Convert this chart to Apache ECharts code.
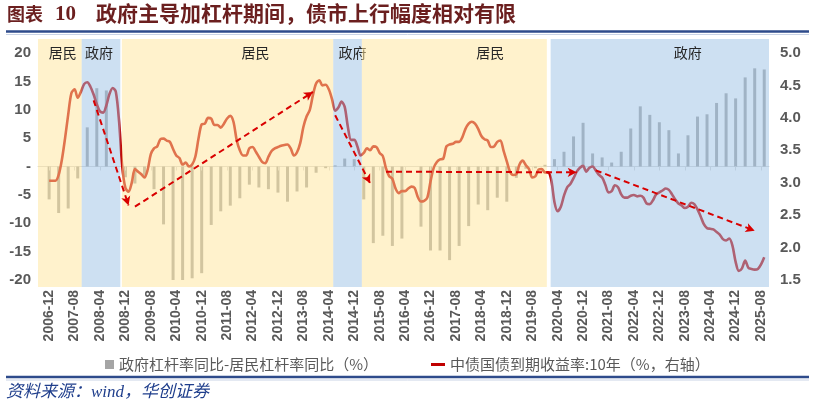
<!DOCTYPE html>
<html>
<head>
<meta charset="utf-8">
<script src="https://cdn.jsdelivr.net/npm/echarts@6/dist/echarts.min.js"></script>
<style>
  html, body { margin: 0; padding: 0; background: #fff; }
  #main { width: 814px; height: 409px; }
</style>
</head>
<body>
<div id="main"></div>
<script>
// 横轴：月度，2006-09 ~ 2025-10
const categories = [];
for (let i = 0; i < 230; i++) {
  const m = 8 + i;
  categories.push((2006 + Math.floor(m / 12)) + '-' + String(m % 12 + 1).padStart(2, '0'));
}

// 政府杠杆率同比-居民杠杆率同比（%），季度，2006-12 起
const gapStart = '2006-12';
const gapValues = [
  -5.8, -8.2, -7.4, -2.1, 6.9, 13.8, 13.4, null, -1.9, -3.0,
  -1.9, -4.0, -10.2, -20.0, -20.0, -19.7, -18.8, -10.3, -7.9, -6.9,
  -5.6, -3.2, -3.7, -4.0, -4.6, -6.2, -4.4, -3.7, -1.1, -0.3,
  0.2, 1.4, 1.3, -5.8, -13.5, -12.2, -14.0, -12.7, null, -10.6,
  -14.8, -14.8, -16.5, -14.0, -10.5, -6.7, -7.7, -5.5, -6.2, -2.0,
  -0.4, -0.3, 0.3, 1.3, 2.6, 5.3, 7.7, 2.3, 1.6, 0.7,
  2.6, 6.7, 10.6, 9.1, 7.8, 6.4, 2.3, 5.5, 8.8, 9.2,
  11.2, 12.9, 12.0, 15.7, 17.3, 17.1
];

// 中债国债到期收益率:10年（%），月度，2006-12 起
const yieldStart = '2006-12';
const yieldValues = [
  3.03, 3.03, 3.03, 3.12, 3.35, 3.68, 4.05, 4.38, 4.44, 4.31,
  4.40, 4.52, 4.55, 4.48, 4.36, 4.21, 4.10, 4.08, 4.19, 4.37,
  4.46, 4.40, 3.95, 3.25, 2.92, 2.86, 3.00, 3.21, 3.17, 3.13,
  3.08, 3.20, 3.44, 3.53, 3.56, 3.67, 3.68, 3.65, 3.63, 3.52,
  3.42, 3.38, 3.28, 3.31, 3.25, 3.28, 3.40, 3.68, 3.90, 3.91,
  4.00, 3.99, 3.89, 3.89, 3.85, 3.91, 3.99, 4.03, 3.94, 3.66,
  3.50, 3.42, 3.42, 3.53, 3.55, 3.48, 3.40, 3.32, 3.30, 3.40,
  3.49, 3.53, 3.55, 3.57, 3.58, 3.59, 3.53, 3.42, 3.47, 3.61,
  3.86, 4.02, 4.12, 4.35, 4.53, 4.58, 4.50, 4.51, 4.44, 4.29,
  4.11, 4.16, 4.25, 4.17, 3.86, 3.66, 3.66, 3.56, 3.42, 3.46,
  3.53, 3.50, 3.56, 3.55, 3.46, 3.41, 3.22, 3.10, 3.06, 2.91,
  2.84, 2.87, 2.87, 2.91, 2.94, 2.92, 2.78, 2.71, 2.72, 2.77,
  3.02, 3.23, 3.32, 3.36, 3.37, 3.56, 3.59, 3.60, 3.63, 3.63,
  3.70, 3.83, 3.91, 3.94, 3.91, 3.83, 3.72, 3.67, 3.65, 3.55,
  3.56, 3.63, 3.65, 3.49, 3.33, 3.17, 3.12, 3.13, 3.28, 3.34,
  3.27, 3.21, 3.08, 3.10, 3.20, 3.21, 3.16, 3.16, 3.04, 2.70,
  2.56, 2.63, 2.80, 2.93, 2.98, 3.07, 3.17, 3.23, 3.26, 3.17,
  3.23, 3.25, 3.19, 3.12, 3.08, 2.97, 2.85, 2.87, 2.96, 2.93,
  2.82, 2.77, 2.77, 2.80, 2.81, 2.79, 2.80, 2.77, 2.68, 2.67,
  2.73, 2.82, 2.85, 2.88, 2.91, 2.89, 2.82, 2.74, 2.68, 2.65,
  2.61, 2.63, 2.69, 2.67, 2.59, 2.48, 2.36, 2.30, 2.29, 2.28,
  2.24, 2.20, 2.13, 2.11, 2.14, 2.03, 1.78, 1.64, 1.68, 1.80,
  1.69, 1.67, 1.66, 1.67, 1.74, 1.85
];

// 阴影区间（月序号，含半格边界）：名称、起、止、标签偏移
const periodNames = ['居民', '政府', '居民', '政府', '居民', '政府'];
const periodFrom = [-0.5, 13.25, 25.9, 92.4, 101.4, 160.8];
const periodTo = [13.25, 25.4, 92.4, 101.4, 159.6, 229.5];
const periodLabelShift = [3, -2, 28, 5, 36, 28];

// 虚线箭头：[起点月序号, 起点收益率, 终点月序号, 终点收益率]
const arrows = [
  [17, 4.27, 28, 2.65],
  [30, 2.63, 86, 4.40],
  [93, 4.04, 104, 2.99],
  [109, 3.17, 169, 3.16],
  [175, 3.19, 225, 2.26]
];

const barName = '政府杠杆率同比-居民杠杆率同比（%）';
const lineName = '中债国债到期收益率:10年（%，右轴）';

const barData = categories.map(() => null);
const g0 = categories.indexOf(gapStart);
gapValues.forEach((v, k) => { barData[g0 + 3 * k] = v; });
const lineData = categories.map(() => null);
const y0 = categories.indexOf(yieldStart);
yieldValues.forEach((v, k) => { lineData[y0 + k] = v; });

const showTick = (idx) => idx >= 3 && (idx - 3) % 8 === 0;
const numFont = '"Liberation Sans", Arial, "Noto Sans CJK SC", sans-serif';
const cjkFont = '"Noto Sans CJK SC", sans-serif';
const yellow = 'rgba(255, 230, 153, 0.5)';
const blue = 'rgba(155, 194, 230, 0.5)';

const chart = echarts.init(document.getElementById('main'), null, { renderer: 'canvas' });

const option = {
  animation: false,
  backgroundColor: '#fff',
  textStyle: { fontFamily: numFont },
  graphic: [
    { type: 'text', left: 7, top: 5, style: { text: '图表', font: 'bold 18px ' + cjkFont, fill: '#6B1F1F' } },
    { type: 'text', left: 55, top: 4, style: { text: '10', font: 'bold 21px "Liberation Serif", serif', fill: '#6B1F1F' } },
    { type: 'text', left: 96, top: 3, style: { text: '政府主导加杠杆期间，债市上行幅度相对有限', font: 'bold 21px ' + cjkFont, fill: '#6B1F1F' } },
    { type: 'line', shape: { x1: 6, y1: 31.5, x2: 809, y2: 31.5 }, style: { stroke: '#2E4B8B', lineWidth: 2.5 } },
    { type: 'line', shape: { x1: 6, y1: 34.5, x2: 809, y2: 34.5 }, style: { stroke: '#C9D3E6', lineWidth: 1 } },
    { type: 'line', shape: { x1: 6, y1: 377, x2: 809, y2: 377 }, style: { stroke: '#2E4B8B', lineWidth: 2.5 } },
    { type: 'line', shape: { x1: 6, y1: 380, x2: 809, y2: 380 }, style: { stroke: '#C9D3E6', lineWidth: 1 } },
    { type: 'text', left: 6, top: 384, style: { text: '资料来源：wind，华创证券', font: 'italic 17px "Liberation Serif", ' + cjkFont, fill: '#1F3E8C' } }
  ],
  legend: [
    {
      left: 100, top: 352, itemWidth: 9, itemHeight: 9, icon: 'rect',
      data: [barName],
      textStyle: { color: '#595959', fontSize: 15, fontFamily: cjkFont }
    },
    {
      left: 426, top: 352, itemWidth: 14, itemHeight: 3, icon: 'rect',
      data: [lineName],
      textStyle: { color: '#595959', fontSize: 15, fontFamily: cjkFont }
    }
  ],
  grid: [
    { left: 38, right: 45, top: 53, bottom: 129 },
    { left: 38, right: 45, top: 39, bottom: 122 }
  ],
  xAxis: [
    {
      type: 'category', gridIndex: 0, position: 'bottom', data: categories,
      axisLine: { show: false, onZero: false },
      axisTick: { show: false },
      axisLabel: {
        interval: showTick, rotate: 90, margin: 10,
        color: '#595959', fontSize: 14, fontWeight: 'bold', fontFamily: numFont
      },
      splitLine: { show: false }
    },
    {
      type: 'category', gridIndex: 0, position: 'bottom', data: categories,
      axisLine: { show: true, onZero: true, onZeroAxisIndex: 0, lineStyle: { color: '#D9D9D9', width: 1 } },
      axisTick: { show: true, interval: showTick, alignWithLabel: true, length: 4, lineStyle: { color: '#D9D9D9' } },
      axisLabel: { show: false },
      splitLine: { show: false }
    },
    { type: 'value', gridIndex: 1, min: -0.5, max: 229.5, show: false }
  ],
  yAxis: [
    {
      type: 'value', gridIndex: 0, position: 'left', min: -20, max: 20, interval: 5,
      axisLine: { show: false }, axisTick: { show: false }, splitLine: { show: false },
      axisLabel: {
        margin: 7, color: '#595959', fontSize: 15, fontWeight: 'bold', fontFamily: numFont,
        formatter: (v) => (v === 0 ? '-' : String(v))
      }
    },
    {
      type: 'value', gridIndex: 0, position: 'right', min: 1.5, max: 5, interval: 0.5,
      axisLine: { show: false }, axisTick: { show: false }, splitLine: { show: false },
      axisLabel: {
        margin: 11, color: '#595959', fontSize: 15, fontWeight: 'bold', fontFamily: numFont,
        formatter: (v) => v.toFixed(1)
      }
    },
    { type: 'value', gridIndex: 1, min: 0, max: 1, show: false }
  ],
  series: [
    {
      name: barName, type: 'bar', xAxisIndex: 0, yAxisIndex: 0, z: 0,
      data: barData, barWidth: 3,
      itemStyle: { color: '#A5A5A5' }
    },
    {
      name: lineName, type: 'line', xAxisIndex: 0, yAxisIndex: 1, z: 0,
      data: lineData, showSymbol: false, smooth: 0.3,
      lineStyle: { color: '#C00000', width: 2.6 },
      itemStyle: { color: '#C00000' },
      markLine: {
        silent: true,
        symbol: ['none', 'arrow'], symbolSize: [7, 9],
        label: { show: false },
        lineStyle: { color: '#D90000', width: 2, type: [6, 4] },
        data: arrows.map((a) => [{ coord: [a[0], a[1]] }, { coord: [a[2], a[3]] }])
      }
    },
    {
      // 阴影区间画在柱和线之上（半透明），使其底色透出
      name: 'shade', type: 'custom', xAxisIndex: 2, yAxisIndex: 2, z: 3, silent: true,
      data: periodNames.map((n, i) => [periodFrom[i], periodTo[i], i]),
      encode: { x: [0, 1] },
      renderItem: (params, api) => {
        const i = api.value(2);
        const p1 = api.coord([api.value(0), 1]);
        const p2 = api.coord([api.value(1), 0]);
        const name = periodNames[i];
        return {
          type: 'group',
          children: [
            {
              type: 'rect',
              shape: { x: p1[0], y: p1[1], width: p2[0] - p1[0], height: p2[1] - p1[1] },
              style: { fill: name === '居民' ? yellow : blue }
            },
            {
              type: 'text',
              style: {
                text: name, x: (p1[0] + p2[0]) / 2 + periodLabelShift[i], y: p1[1] + 7,
                align: 'center', verticalAlign: 'top',
                font: '14px ' + cjkFont, fill: '#262626'
              }
            }
          ]
        };
      }
    }
  ]
};

chart.setOption(option);
</script>
</body>
</html>
